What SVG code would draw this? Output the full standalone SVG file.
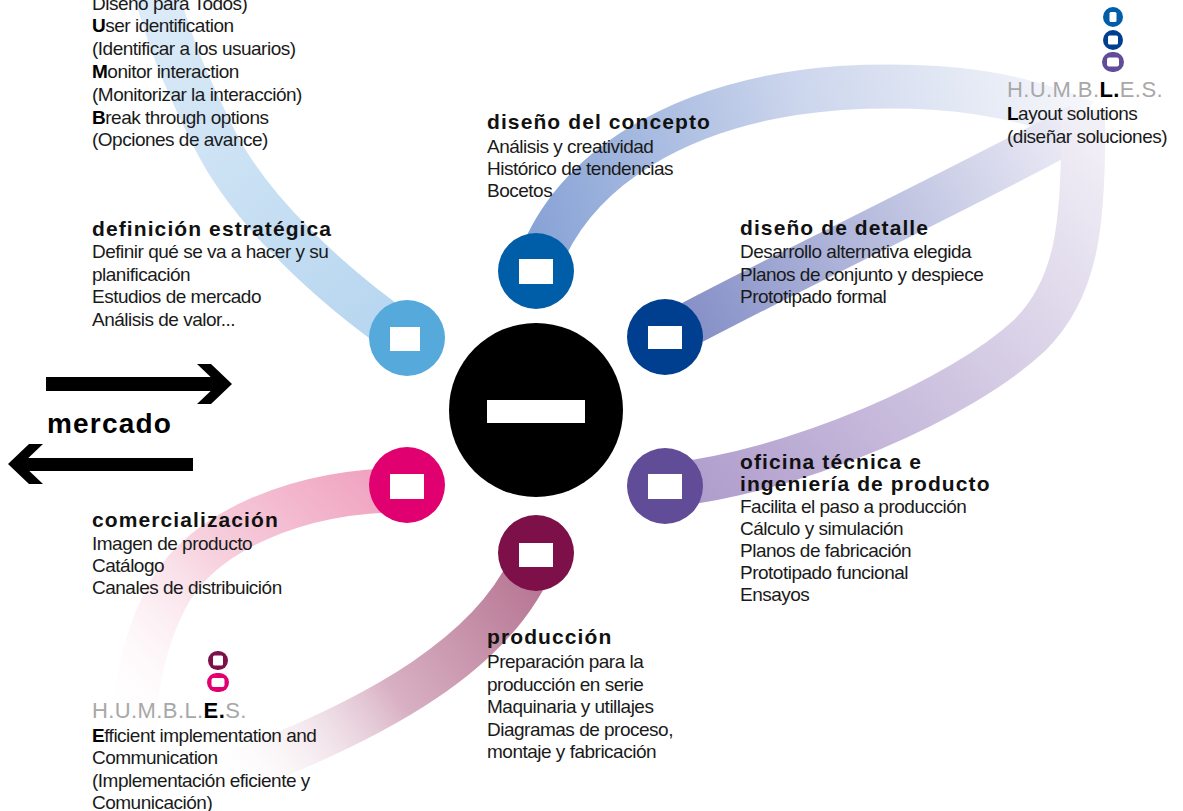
<svg xmlns="http://www.w3.org/2000/svg" width="1183" height="811" viewBox="0 0 1183 811">
<defs>
<style>
.t{font-family:"Liberation Sans",Arial,sans-serif;font-weight:bold;font-size:21px;letter-spacing:1.1px;fill:#111}
.b{font-family:"Liberation Sans",Arial,sans-serif;font-size:19px;letter-spacing:-0.5px;fill:#1a1a1a}
.h{font-family:"Liberation Sans",Arial,sans-serif;font-size:22px;letter-spacing:0.4px;fill:#a8a8a8}
.k{fill:#000;font-weight:bold}
.rib{fill:none;stroke-width:44}
.w{fill:#fff}
</style>
<linearGradient id="gLB" gradientUnits="userSpaceOnUse" x1="407" y1="338" x2="155" y2="0">
<stop offset="0" stop-color="#b5d5ef"/><stop offset="1" stop-color="#dcebf8"/>
</linearGradient>
<linearGradient id="gTB" gradientUnits="userSpaceOnUse" x1="540" y1="250" x2="1090" y2="110">
<stop offset="0" stop-color="#88a3d6"/><stop offset="0.5" stop-color="#cbd5ec"/><stop offset="1" stop-color="#f6f7fb"/>
</linearGradient>
<linearGradient id="gDT" gradientUnits="userSpaceOnUse" x1="665" y1="337" x2="1080" y2="125">
<stop offset="0" stop-color="#7f8ac4"/><stop offset="1" stop-color="#efeef7"/>
</linearGradient>
<linearGradient id="gPU" gradientUnits="userSpaceOnUse" x1="665" y1="486" x2="1083" y2="110">
<stop offset="0" stop-color="#ad9acb"/><stop offset="1" stop-color="#f2f0f7"/>
</linearGradient>
<linearGradient id="gPK" gradientUnits="userSpaceOnUse" x1="407" y1="490" x2="133" y2="750">
<stop offset="0" stop-color="#ef9fbd"/><stop offset="0.5" stop-color="#f7d2df"/><stop offset="1" stop-color="#ffffff" stop-opacity="0"/>
</linearGradient>
<linearGradient id="gPR" gradientUnits="userSpaceOnUse" x1="536" y1="553" x2="215" y2="780">
<stop offset="0" stop-color="#b4718f"/><stop offset="0.5" stop-color="#d8b0c3"/><stop offset="1" stop-color="#ffffff" stop-opacity="0"/>
</linearGradient>
</defs>
<rect width="1183" height="811" fill="#fff"/>

<g id="connectors">
<path class="rib" stroke="url(#gLB)" stroke-width="40" d="M 407 338 C 330 285, 250 210, 215 140 S 170 40, 155 -10"/>
<path class="rib" stroke="url(#gTB)" stroke-width="46" d="M 536 271 C 570 170, 680 100, 840 88 C 950 82, 1020 95, 1085 122"/>
<path class="rib" stroke="url(#gDT)" stroke-width="38" d="M 665 337 C 780 275, 950 195, 1080 125"/>
<path class="rib" stroke="url(#gPU)" d="M 665 486 C 800 470, 960 400, 1030 335 C 1075 290, 1085 230, 1083 110"/>
<path class="rib" stroke="url(#gPK)" d="M 407 490 C 300 490, 200 530, 165 600 C 140 650, 133 700, 133 760"/>
<path class="rib" stroke="url(#gPR)" d="M 536 553 C 500 650, 380 720, 215 780"/>
</g>

<g id="mercado">
<rect x="46" y="377" width="172" height="14" fill="#000"/>
<polygon points="232,384 211,364 197,364 218,384 197,404 211,404" fill="#000"/>
<rect x="22" y="458" width="171" height="13" fill="#000"/>
<polygon points="8,464 29,444 43,444 22,464 43,484 29,484" fill="#000"/>
<text x="47" y="433" style="font-family:'Liberation Sans',Arial,sans-serif;font-weight:bold;font-size:28px;letter-spacing:1.2px;fill:#000">mercado</text>
</g>

<g id="node-center">
<circle cx="536" cy="410" r="87" fill="#000"/>
<rect x="487" y="400" width="98" height="23" class="w"/>
</g>

<g id="node-estrategica">
<circle cx="407" cy="338" r="38" fill="#55aadb"/>
<rect x="390" y="327" width="30" height="24" class="w"/>
<text class="t" x="92" y="236">definición estratégica</text>
<text class="b" x="92" y="258">Definir qué se va a hacer y su</text>
<text class="b" x="92" y="280.5">planificación</text>
<text class="b" x="92" y="303">Estudios de mercado</text>
<text class="b" x="92" y="325.5">Análisis de valor...</text>
</g>

<g id="node-humbles-top-left">
<text class="b" x="92" y="9.5">Diseño para Todos)</text>
<text class="b" x="92" y="32.3"><tspan class="k">U</tspan>ser identification</text>
<text class="b" x="92" y="55.1">(Identificar a los usuarios)</text>
<text class="b" x="92" y="77.9"><tspan class="k">M</tspan>onitor interaction</text>
<text class="b" x="92" y="100.7">(Monitorizar la interacción)</text>
<text class="b" x="92" y="123.5"><tspan class="k">B</tspan>reak through options</text>
<text class="b" x="92" y="146.3">(Opciones de avance)</text>
</g>

<g id="node-concepto">
<circle cx="536" cy="271" r="38" fill="#005ea9"/>
<rect x="519" y="259" width="34" height="25" class="w"/>
<text class="t" x="487" y="129">diseño del concepto</text>
<text class="b" x="487" y="152.5">Análisis y creatividad</text>
<text class="b" x="487" y="175">Histórico de tendencias</text>
<text class="b" x="487" y="197">Bocetos</text>
</g>

<g id="node-detalle">
<circle cx="665" cy="337" r="38" fill="#003f8f"/>
<rect x="648" y="326" width="34" height="23" class="w"/>
<text class="t" x="740" y="235">diseño de detalle</text>
<text class="b" x="740" y="258">Desarrollo alternativa elegida</text>
<text class="b" x="740" y="280.5">Planos de conjunto y despiece</text>
<text class="b" x="740" y="303">Prototipado formal</text>
</g>

<g id="node-oficina">
<circle cx="665" cy="486" r="38" fill="#604c97"/>
<rect x="648" y="474" width="34" height="25" class="w"/>
<text class="t" x="740" y="469">oficina técnica e</text>
<text class="t" x="740" y="491">ingeniería de producto</text>
<text class="b" x="740" y="512.5">Facilita el paso a producción</text>
<text class="b" x="740" y="534.5">Cálculo y simulación</text>
<text class="b" x="740" y="556.5">Planos de fabricación</text>
<text class="b" x="740" y="579">Prototipado funcional</text>
<text class="b" x="740" y="601">Ensayos</text>
</g>

<g id="node-produccion">
<circle cx="536" cy="553" r="38" fill="#7d1049"/>
<rect x="519" y="543" width="34" height="24" class="w"/>
<text class="t" x="487" y="644">producción</text>
<text class="b" x="487" y="668">Preparación para la</text>
<text class="b" x="487" y="690.5">producción en serie</text>
<text class="b" x="487" y="713">Maquinaria y utillajes</text>
<text class="b" x="487" y="735.5">Diagramas de proceso,</text>
<text class="b" x="487" y="758">montaje y fabricación</text>
</g>

<g id="node-comercializacion">
<circle cx="407" cy="485" r="38" fill="#e1006f"/>
<rect x="390" y="474" width="34" height="25" class="w"/>
<text class="t" x="92" y="527">comercialización</text>
<text class="b" x="92" y="550">Imagen de producto</text>
<text class="b" x="92" y="572">Catálogo</text>
<text class="b" x="92" y="594">Canales de distribuición</text>
</g>

<g id="node-humbles-top-right">
<rect x="1103" y="7" width="20" height="20" rx="10" fill="#005ea9"/>
<rect x="1109.5" y="12" width="7" height="10" rx="1.5" class="w"/>
<rect x="1103" y="30" width="20" height="20" rx="10" fill="#003f8f"/>
<rect x="1108" y="35.5" width="10" height="9" rx="1.5" class="w"/>
<rect x="1102" y="52" width="22" height="20" rx="10" fill="#604c97"/>
<rect x="1107" y="57.5" width="12" height="9" rx="2" class="w"/>
<text class="h" x="1007" y="97">H.U.M.B.<tspan class="k">L.</tspan>E.S.</text>
<text class="b" x="1007" y="120"><tspan class="k">L</tspan>ayout solutions</text>
<text class="b" x="1007" y="143">(diseñar soluciones)</text>
</g>

<g id="node-humbles-bottom-left">
<rect x="208" y="651" width="20" height="19" rx="9.5" fill="#7d1049"/>
<rect x="213" y="655.5" width="10" height="10" rx="1.5" class="w"/>
<rect x="207" y="673" width="22" height="19" rx="9.5" fill="#e1006f"/>
<rect x="211.5" y="678" width="13" height="9" rx="2" class="w"/>
<text class="h" x="92" y="718">H.U.M.B.L.<tspan class="k">E.</tspan>S.</text>
<text class="b" x="92" y="741.5"><tspan class="k">E</tspan>fficient implementation and</text>
<text class="b" x="92" y="764">Communication</text>
<text class="b" x="92" y="786.5">(Implementación eficiente y</text>
<text class="b" x="92" y="809">Comunicación)</text>
</g>
</svg>
